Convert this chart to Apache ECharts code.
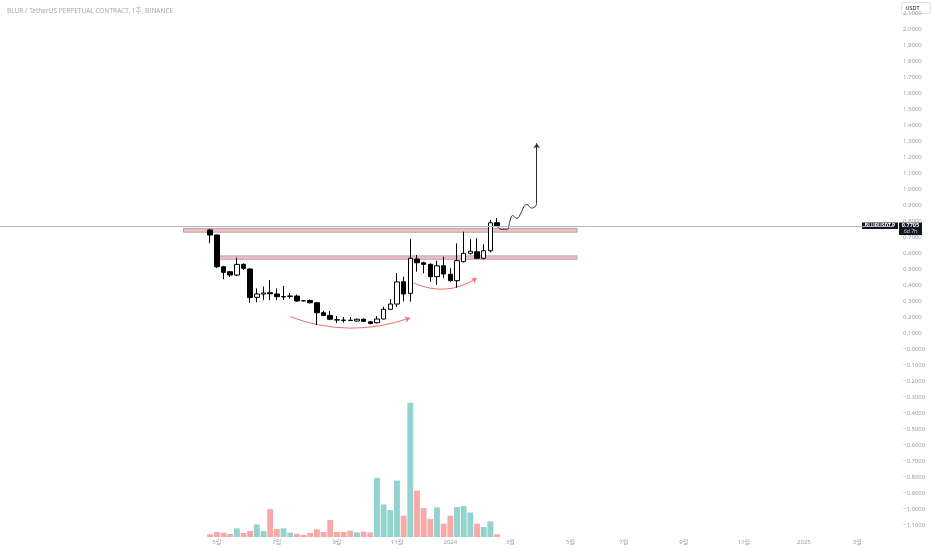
<!DOCTYPE html>
<html>
<head>
<meta charset="utf-8">
<script src="https://cdn.jsdelivr.net/npm/echarts@6/dist/echarts.min.js"></script>
<style>
  html, body { margin: 0; padding: 0; background: #fff; }
  #main { width: 932px; height: 550px; }
</style>
</head>
<body>
<div id="main"></div>
<script>
// BLURUSDT.P weekly candles (Binance perp)
const candleDates = [
  '2023-04-24','2023-05-01','2023-05-08','2023-05-15','2023-05-22','2023-05-29','2023-06-05','2023-06-12',
  '2023-06-19','2023-06-26','2023-07-03','2023-07-10','2023-07-17','2023-07-24','2023-07-31','2023-08-07',
  '2023-08-14','2023-08-21','2023-08-28','2023-09-04','2023-09-11','2023-09-18','2023-09-25','2023-10-02',
  '2023-10-09','2023-10-16','2023-10-23','2023-10-30','2023-11-06','2023-11-13','2023-11-20','2023-11-27',
  '2023-12-04','2023-12-11','2023-12-18','2023-12-25','2024-01-01','2024-01-08','2024-01-15','2024-01-22',
  '2024-01-29','2024-02-05','2024-02-12','2024-02-19'
];
const opens = [
  0.744, 0.7125, 0.514, 0.483, 0.4625, 0.529, 0.500, 0.323, 0.343, 0.352, 0.344, 0.325, 0.329, 0.331, 0.302,
  0.303, 0.289, 0.227, 0.210, 0.183, 0.181, 0.180, 0.175, 0.186, 0.170, 0.164, 0.1875, 0.248, 0.281, 0.420,
  0.348, 0.5625, 0.539, 0.529, 0.452, 0.520, 0.467, 0.427, 0.546, 0.598, 0.608, 0.567, 0.614, 0.789
];
const closes = [
  0.7125, 0.514, 0.479, 0.4625, 0.529, 0.504, 0.321, 0.344, 0.350, 0.345, 0.327, 0.328, 0.331, 0.300, 0.301,
  0.289, 0.227, 0.210, 0.186, 0.181, 0.179, 0.178, 0.186, 0.173, 0.160, 0.1875, 0.248, 0.281, 0.419, 0.344,
  0.567, 0.539, 0.529, 0.452, 0.520, 0.469, 0.427, 0.552, 0.598, 0.611, 0.567, 0.614, 0.789, 0.7705
];
const lows = [
  0.661, 0.506, 0.436, 0.450, 0.455, 0.494, 0.289, 0.292, 0.305, 0.305, 0.306, 0.306, 0.315, 0.295, 0.297,
  0.285, 0.150, 0.205, 0.180, 0.162, 0.165, 0.178, 0.172, 0.170, 0.155, 0.160, 0.185, 0.245, 0.2625, 0.297,
  0.296, 0.483, 0.473, 0.420, 0.400, 0.442, 0.420, 0.383, 0.540, 0.590, 0.563, 0.560, 0.604, 0.765
];
const highs = [
  0.750, 0.715, 0.520, 0.487, 0.571, 0.535, 0.505, 0.379, 0.390, 0.430, 0.379, 0.394, 0.350, 0.340, 0.305,
  0.310, 0.292, 0.239, 0.2375, 0.206, 0.200, 0.200, 0.190, 0.190, 0.172, 0.206, 0.264, 0.3125, 0.475, 0.453,
  0.686, 0.5875, 0.545, 0.535, 0.552, 0.577, 0.504, 0.660, 0.733, 0.686, 0.692, 0.654, 0.806, 0.819
];
// weekly volume, millions
const volumes = [
  245, 450, 390, 270, 780, 360, 540, 1140, 540, 2520, 720, 780, 390, 300, 210,
  360, 690, 450, 1530, 450, 450, 570, 420, 480, 420, 5340, 2940, 2430, 5100, 1920,
  12120, 4200, 2610, 1620, 2670, 1200, 1920, 2700, 2790, 2220, 1200, 900, 1410, 250.189
];
const lastPrice = 0.7705;

const tickDates = ['2023-05-01','2023-07-03','2023-09-04','2023-11-06','2024-01-01','2024-03-04',
  '2024-05-06','2024-07-01','2024-09-02','2024-11-04','2025-01-06','2025-03-03'];
const tickTexts = ['5월','7월','9월','11월','2024','3월','5월','7월','9월','11월','2025','3월'];

// resistance zones: [from, to, bottom, top]
const zoneUpper = ['2023-03-27', '2024-05-13', 0.730, 0.754];
const zoneLower = ['2023-05-01', '2024-05-13', 0.561, 0.582];

// hand drawn annotations, [week index on axis, price]
const cupLeft = [[42.97, 0.202], [60.95, 0.194]];
const cupRight = [[61.45, 0.414], [70.95, 0.442]];
const pathPts = [
  [73.99, 0.772], [74.59, 0.748], [75.49, 0.748], [75.94, 0.800], [76.32, 0.834], [76.99, 0.816],
  [77.59, 0.850], [78.04, 0.891], [78.49, 0.903], [79.16, 0.881], [79.69, 0.888], [79.94, 0.909]
];
const pathArrow = [[79.94, 0.909], [79.94, 1.286]];

// axis weeks: blank space left of the data and the future on the right
const axisStart = '2022-09-19';
const axisWeeks = 134;
const axisDates = [];
for (let i = 0; i < axisWeeks; i++) {
  const t = Date.parse(axisStart + 'T00:00:00Z') + i * 7 * 864e5;
  axisDates.push(new Date(t).toISOString().slice(0, 10));
}

const UP_VOL = '#93d3cd';
const DOWN_VOL = '#f7a9a7';
const GREY = '#9a9ea8';
const FONT = "'Noto Sans', 'Noto Sans CJK KR', sans-serif";

const candleData = axisDates.map(d => {
  const j = candleDates.indexOf(d);
  return j < 0 ? '-' : [opens[j], closes[j], lows[j], highs[j]];
});
const volData = axisDates.map(d => {
  const j = candleDates.indexOf(d);
  if (j < 0) return '-';
  return { value: volumes[j], itemStyle: { color: closes[j] >= opens[j] ? UP_VOL : DOWN_VOL } };
});

function priceLabel(v) {
  if (Math.abs(v) < 1e-9) return '\u22120.0000';
  return v < 0 ? '\u2212' + Math.abs(v).toFixed(4) : v.toFixed(4);
}

const chart = echarts.init(document.getElementById('main'));

const option = {
  animation: false,
  backgroundColor: '#ffffff',
  textStyle: { fontFamily: FONT },
  title: {
    text: 'BLUR / TetherUS PERPETUAL CONTRACT, 1주, BINANCE',
    left: 2, top: 3,
    textStyle: { fontSize: 6.5, fontWeight: 'normal', color: '#a4a7b0', fontFamily: FONT }
  },
  grid: [
    { left: 0, right: 38, top: 0, bottom: 9 },
    { left: 0, right: 38, top: 382, bottom: 13 }
  ],
  xAxis: [
    { type: 'category', gridIndex: 0, data: axisDates, show: false },
    { type: 'value', gridIndex: 0, min: -0.5, max: axisWeeks - 0.5, show: false },
    {
      type: 'category', gridIndex: 1, data: axisDates,
      axisLine: { show: false }, axisTick: { show: false }, splitLine: { show: false },
      axisLabel: {
        interval: (idx, val) => tickDates.indexOf(val) >= 0,
        formatter: val => tickTexts[tickDates.indexOf(val)] || '',
        fontSize: 6, color: GREY, margin: 2, fontFamily: FONT
      }
    }
  ],
  yAxis: [
    {
      type: 'value', gridIndex: 0, position: 'right',
      min: -1.2, max: 2.18125, interval: 0.1,
      axisLine: { show: false }, axisTick: { show: false }, splitLine: { show: false },
      axisLabel: {
        showMinLabel: false, showMaxLabel: false,
        formatter: priceLabel, fontSize: 6, color: GREY, margin: 9, fontFamily: FONT
      }
    },
    { type: 'value', gridIndex: 1, min: 0, max: 14000, show: false }
  ],
  series: [
    {
      type: 'bar', name: 'Volume', xAxisIndex: 2, yAxisIndex: 1,
      data: volData, barWidth: '88%', silent: true,
      markLine: {
        silent: true, symbol: 'none',
        lineStyle: { opacity: 0 },
        label: {
          position: 'end', distance: 5,
          formatter: () => volumes[volumes.length - 1].toFixed(3) + 'M',
          backgroundColor: '#ee4c56', color: '#fff', fontSize: 5.5, padding: [1, 2, 1, 2],
          fontFamily: FONT
        },
        data: [{ yAxis: volumes[volumes.length - 1] }]
      }
    },
    {
      type: 'candlestick', name: 'BLURUSDT.P', xAxisIndex: 0, yAxisIndex: 0,
      data: candleData, barWidth: 5, silent: true,
      itemStyle: {
        color: '#ffffff', color0: '#000000',
        borderColor: '#000000', borderColor0: '#000000', borderWidth: 1
      },
      markArea: {
        silent: true,
        itemStyle: { color: '#f7bcc0', borderColor: '#a9a9a9', borderWidth: 1 },
        data: [
          [{ xAxis: zoneUpper[0], yAxis: zoneUpper[3] }, { xAxis: zoneUpper[1], yAxis: zoneUpper[2] }],
          [{ xAxis: zoneLower[0], yAxis: zoneLower[3] }, { xAxis: zoneLower[1], yAxis: zoneLower[2] }]
        ]
      },
      markLine: {
        silent: true, symbol: 'none',
        lineStyle: { color: '#b4b7bf', width: 1, type: 'solid' },
        label: { show: false },
        data: [{ yAxis: lastPrice }]
      }
    },
    {
      type: 'lines', coordinateSystem: 'cartesian2d', xAxisIndex: 1, yAxisIndex: 0,
      symbol: ['none', 'arrow'], symbolSize: 5, silent: true,
      lineStyle: { color: '#f07070', width: 1, curveness: -0.18, opacity: 1 },
      data: [{ coords: cupLeft }, { coords: cupRight, lineStyle: { curveness: -0.27 } }]
    },
    {
      type: 'line', xAxisIndex: 1, yAxisIndex: 0, data: pathPts,
      smooth: 0.4, showSymbol: false, silent: true,
      lineStyle: { color: '#2a2e39', width: 1 }
    },
    {
      type: 'lines', coordinateSystem: 'cartesian2d', xAxisIndex: 1, yAxisIndex: 0,
      symbol: ['none', 'arrow'], symbolSize: 5, silent: true,
      lineStyle: { color: '#2a2e39', width: 1, opacity: 1 },
      data: [{ coords: pathArrow }]
    }
  ]
};

chart.setOption(option);

// price tags on the right scale, placed on the last price
const yLast = chart.convertToPixel({ yAxisIndex: 0 }, lastPrice);
chart.setOption({
  graphic: [
    {
      type: 'group', left: 862, top: yLast - 3.2, z: 100,
      children: [
        { type: 'rect', shape: { x: 0, y: 0, width: 36, height: 6.5 }, style: { fill: '#131722' } },
        { type: 'text', x: 18, y: 3.3, style: { text: 'BLURUSDT.P', fill: '#fff', font: 'bold 5px ' + FONT, align: 'center', verticalAlign: 'middle' } }
      ]
    },
    {
      type: 'group', left: 899, top: yLast - 3.2, z: 100,
      children: [
        { type: 'rect', shape: { x: 0, y: 0, width: 23, height: 12.5 }, style: { fill: '#131722' } },
        { type: 'text', x: 11.5, y: 3.4, style: { text: priceLabel(lastPrice), fill: '#fff', font: 'bold 5.5px ' + FONT, align: 'center', verticalAlign: 'middle' } },
        { type: 'text', x: 11.5, y: 9.3, style: { text: '6d 7h', fill: '#d1d4dc', font: '5px ' + FONT, align: 'center', verticalAlign: 'middle' } }
      ]
    },
    {
      type: 'group', left: 901, top: 2, z: 100,
      children: [
        { type: 'rect', shape: { x: 0, y: 0, width: 29, height: 11, r: 2 }, style: { fill: '#fff', stroke: '#e0e3eb', lineWidth: 1 } },
        { type: 'text', x: 4, y: 5.5, style: { text: 'USDT', fill: '#131722', font: '5.5px ' + FONT, verticalAlign: 'middle' } }
      ]
    }
  ]
});
</script>
</body>
</html>
